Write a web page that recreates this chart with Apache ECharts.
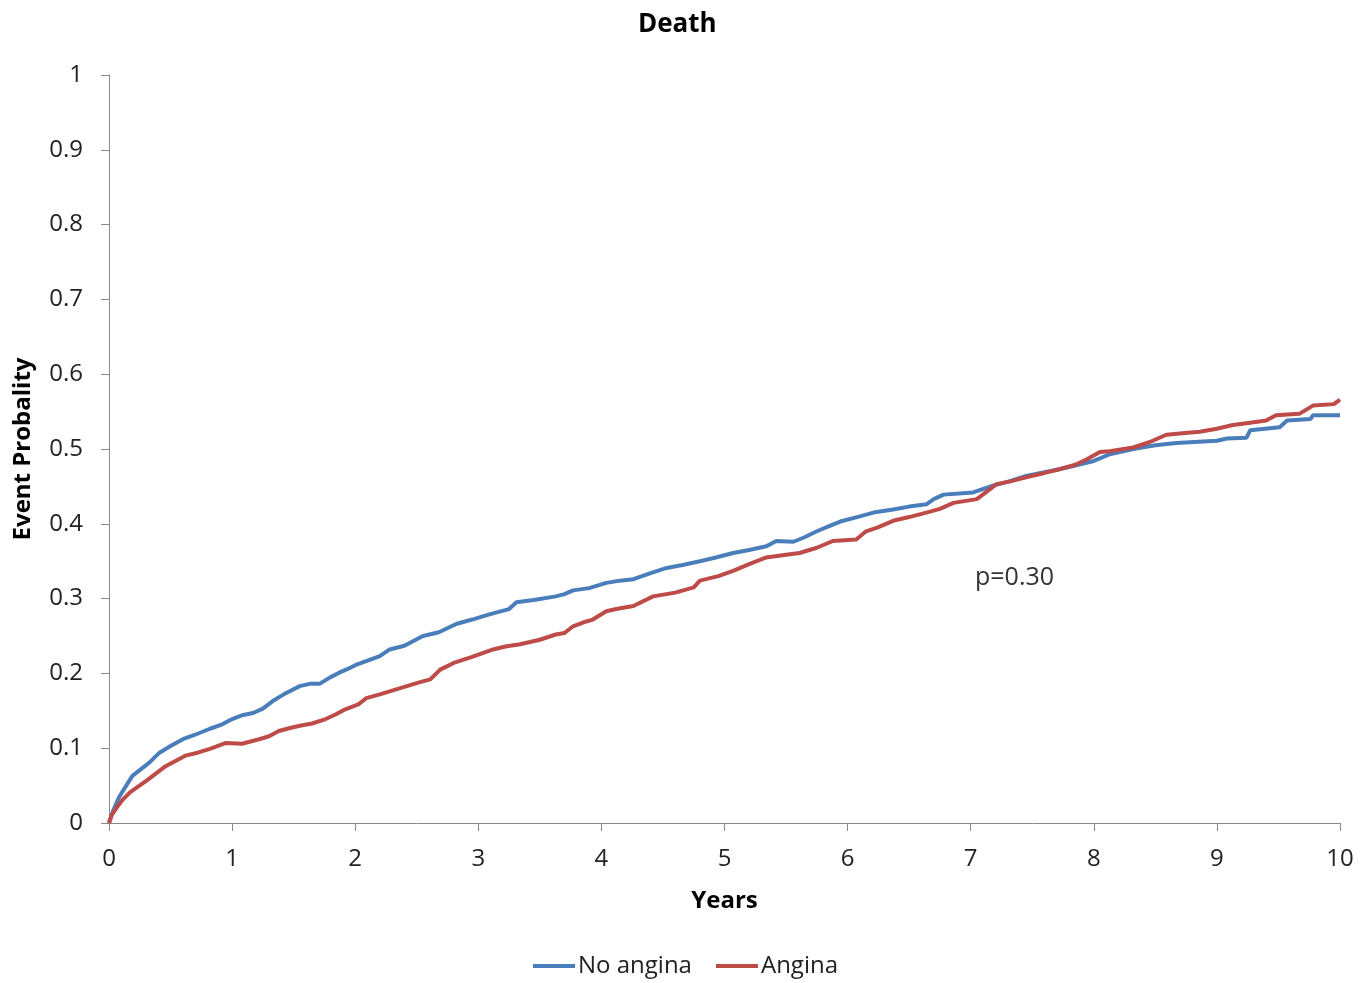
<!DOCTYPE html>
<html>
<head>
<meta charset="utf-8">
<script src="https://cdn.jsdelivr.net/npm/echarts@6/dist/echarts.min.js"></script>
<style>html,body{margin:0;padding:0;background:#fff}#c{width:1371px;height:983px}</style>
</head>
<body>
<div id="c"></div>
<script>
const seriesNames = ['No angina', 'Angina'];
const xTicks = [0,1,2,3,4,5,6,7,8,9,10];
const noAnginaT = [0,0.03,0.08,0.14,0.19,0.26,0.33,0.41,0.5,0.6,0.7,0.82,0.92,1.0,1.08,1.17,1.25,1.33,1.42,1.55,1.63,1.71,1.8,1.87,1.94,2.0,2.1,2.2,2.28,2.4,2.55,2.68,2.82,2.95,3.09,3.18,3.25,3.31,3.45,3.63,3.7,3.77,3.9,4.04,4.15,4.26,4.4,4.53,4.66,4.8,4.93,5.07,5.2,5.34,5.42,5.56,5.65,5.75,5.85,5.94,6.1,6.21,6.37,6.5,6.64,6.7,6.78,7.02,7.18,7.3,7.45,7.6,7.72,7.85,8.0,8.13,8.32,8.5,8.67,9.0,9.08,9.24,9.27,9.51,9.57,9.76,9.78,10];
const noAnginaV = [0,0.015,0.034,0.05,0.063,0.072,0.081,0.094,0.103,0.112,0.118,0.126,0.132,0.139,0.144,0.147,0.153,0.163,0.172,0.183,0.186,0.186,0.195,0.201,0.206,0.211,0.217,0.223,0.232,0.237,0.25,0.255,0.266,0.272,0.279,0.283,0.286,0.295,0.298,0.303,0.306,0.311,0.314,0.321,0.324,0.326,0.334,0.341,0.345,0.35,0.355,0.361,0.365,0.37,0.377,0.376,0.382,0.39,0.397,0.403,0.41,0.415,0.419,0.423,0.426,0.433,0.439,0.442,0.451,0.456,0.464,0.469,0.473,0.478,0.484,0.493,0.5,0.505,0.508,0.511,0.514,0.515,0.525,0.529,0.538,0.54,0.545,0.545];
const anginaT = [0,0.02,0.06,0.11,0.17,0.23,0.3,0.38,0.46,0.54,0.62,0.72,0.82,0.95,1.08,1.22,1.3,1.38,1.47,1.55,1.65,1.76,1.84,1.92,2.03,2.09,2.2,2.3,2.42,2.52,2.61,2.69,2.8,2.95,3.12,3.22,3.34,3.5,3.63,3.7,3.77,3.85,3.93,4.04,4.12,4.26,4.42,4.6,4.75,4.8,4.95,5.07,5.2,5.34,5.47,5.61,5.75,5.88,6.07,6.15,6.24,6.37,6.5,6.64,6.75,6.86,7.05,7.13,7.21,7.33,7.45,7.6,7.72,7.85,7.94,8.05,8.13,8.32,8.45,8.59,8.72,8.86,9.0,9.13,9.27,9.4,9.48,9.67,9.78,9.95,10];
const anginaV = [0,0.01,0.02,0.031,0.041,0.048,0.056,0.066,0.076,0.083,0.09,0.094,0.099,0.107,0.106,0.112,0.116,0.123,0.127,0.13,0.133,0.139,0.145,0.152,0.159,0.167,0.172,0.177,0.183,0.188,0.192,0.205,0.214,0.222,0.232,0.236,0.239,0.245,0.252,0.254,0.263,0.268,0.272,0.283,0.286,0.29,0.303,0.308,0.315,0.324,0.33,0.337,0.346,0.355,0.358,0.361,0.368,0.377,0.379,0.39,0.395,0.404,0.409,0.415,0.42,0.428,0.433,0.443,0.453,0.457,0.462,0.468,0.473,0.479,0.486,0.496,0.497,0.502,0.509,0.519,0.521,0.523,0.527,0.532,0.535,0.538,0.545,0.547,0.558,0.56,0.566];
const yTicks = [0,0.1,0.2,0.3,0.4,0.5,0.6,0.7,0.8,0.9,1];
const colors = ['#4a7ebb', '#be4b48'];

const font = "'Open Sans', 'Liberation Sans', sans-serif";
const chart = echarts.init(document.getElementById('c'));
const zip = (t, v) => t.map((x, i) => [x, v[i]]);
chart.setOption({
  animation: false,
  title: { text: 'Death', left: 633, top: 7, textStyle: { fontFamily: font, fontSize: 26, fontWeight: 'bold', color: '#000' } },
  grid: { left: 109, right: 31, top: 75, bottom: 160, containLabel: false },
  legend: {
    bottom: 0, left: 'center', icon: 'rect', itemWidth: 42, itemHeight: 4, itemGap: 24,
    textStyle: { fontFamily: font, fontSize: 24, color: '#222', padding: [0, 0, 0, -2] },
    data: seriesNames
  },
  xAxis: {
    type: 'value', min: 0, max: 10, interval: 1,
    name: 'Years', nameLocation: 'middle', nameGap: 66,
    nameTextStyle: { fontFamily: font, fontSize: 24, fontWeight: 'bold', color: '#000' },
    axisLine: { lineStyle: { color: '#888', width: 1 } },
    axisTick: { show: true, length: 8, lineStyle: { color: '#888' } },
    axisLabel: { fontFamily: font, fontSize: 24, color: '#222', margin: 24, formatter: v => String(v) },
    splitLine: { show: false }
  },
  yAxis: {
    type: 'value', min: 0, max: 1, interval: 0.1,
    name: 'Event Probality', nameLocation: 'middle', nameGap: 74, nameRotate: 90,
    nameTextStyle: { fontFamily: font, fontSize: 24, fontWeight: 'bold', color: '#000' },
    axisLine: { show: true, lineStyle: { color: '#888', width: 1 } },
    axisTick: { show: true, length: 8, lineStyle: { color: '#888' } },
    axisLabel: { fontFamily: font, fontSize: 24, color: '#222', margin: 26,
      formatter: v => { const r = Math.round(v * 10) / 10; return String(r); } },
    splitLine: { show: false }
  },
  graphic: [{ type: 'text', left: 975, top: 565, style: { text: 'p=0.30', fontFamily: font, fontSize: 25, fill: '#333' } }],
  series: [
    { name: seriesNames[0], type: 'line', showSymbol: false, data: zip(noAnginaT, noAnginaV),
      lineStyle: { color: colors[0], width: 4 }, itemStyle: { color: colors[0] } },
    { name: seriesNames[1], type: 'line', showSymbol: false, data: zip(anginaT, anginaV),
      lineStyle: { color: colors[1], width: 4 }, itemStyle: { color: colors[1] } }
  ]
});
</script>
</body>
</html>
